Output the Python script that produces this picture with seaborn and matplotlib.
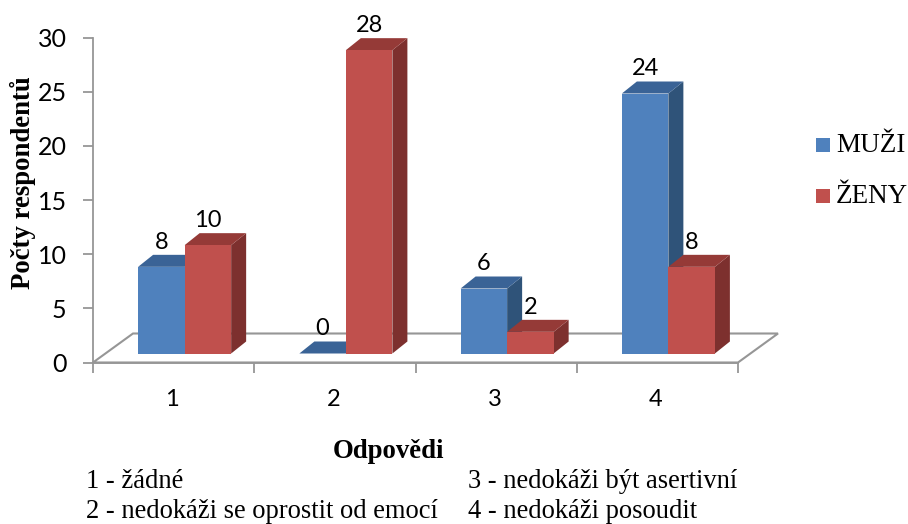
import matplotlib
matplotlib.use("Agg")
import matplotlib.pyplot as plt
from matplotlib.patches import Polygon, Rectangle
from matplotlib.transforms import IdentityTransform, ScaledTranslation
import seaborn as sns
import pandas as pd

# values
answers = ["1", "2", "3", "4"]
men = [8, 0, 6, 24]
women = [10, 28, 2, 8]
series_names = ["MUŽI", "ŽENY"]
y_ticks = [0, 5, 10, 15, 20, 25, 30]
notes_left = ["1 - žádné", "2 - nedokáži se oprostit od emocí"]
notes_right = ["3 - nedokáži být asertivní", "4 - nedokáži posoudit"]

df = pd.DataFrame({
    "answer": answers * 2,
    "count": men + women,
    "group": [series_names[0]] * 4 + [series_names[1]] * 4,
})

W, H = 908, 524
sns.set_theme(style="white")
plt.rcParams["font.family"] = ["Lato", "DejaVu Sans"]
fig = plt.figure(figsize=(W / 100, H / 100), dpi=100)
ax = fig.add_axes([93 / W, 1 - 362.5 / H, 645 / W, 325 / H])

front = {"MUŽI": "#4f81bd", "ŽENY": "#c0504d"}
side = {"MUŽI": "#2f5379", "ŽENY": "#7d302e"}
top = {"MUŽI": "#3a6396", "ŽENY": "#953a37"}
screen = IdentityTransform()

sns.barplot(data=df, x="answer", y="count", hue="group", palette=front, ax=ax,
            width=0.577, saturation=1, legend=False, linewidth=0, edgecolor="none")
ax.set_xlim(-0.5, 3.5)
ax.set_ylim(0, 30)
ax.set_yticks(y_ticks)
bars = list(ax.patches)

# bars stand on the floor, a bit behind the axis plane
px = 1 / 100
dx, dy = 15, 12
shift = ScaledTranslation(11 * px, 9 * px, fig.dpi_scale_trans)

# floor of the 3D chart
x0, y0 = ax.transData.transform((-0.5, 0))
x1, y1 = ax.transData.transform((3.5, 0))
ax.add_patch(Polygon([(x0, y0), (x1, y1), (x1 + 40, y1 + 29), (x0 + 40, y0 + 29)],
                     transform=screen, facecolor="white", edgecolor="#969696", lw=1.5,
                     zorder=1, clip_on=False))

names = [series_names[0]] * 4 + [series_names[1]] * 4
for bar, name, val in zip(bars, names, men + women):
    # corners in screen pixels, after the floor shift
    xa, ya = (ax.transData + shift).transform((bar.get_x(), 0))
    xb, yb = (ax.transData + shift).transform((bar.get_x() + bar.get_width(), val))
    z = 3 if name == series_names[0] else 4
    bar.set_transform(ax.transData + shift)
    bar.set_zorder(z)
    bar.set_clip_on(False)
    ax.add_patch(Polygon([(xb, ya), (xb + dx, ya + dy), (xb + dx, yb + dy), (xb, yb)],
                         transform=screen, facecolor=side[name], edgecolor="none",
                         zorder=z - 0.5, clip_on=False))
    ax.add_patch(Polygon([(xa, yb), (xb, yb), (xb + dx, yb + dy), (xa + dx, yb + dy)],
                         transform=screen, facecolor=top[name], edgecolor="none",
                         zorder=z - 0.5, clip_on=False))
    ax.annotate(str(val), xy=((xa + xb) / 2, yb + dy), xycoords="figure pixels",
                xytext=(0, 1.5), textcoords="offset points", ha="center", va="bottom",
                fontsize=17, color="black", annotation_clip=False, zorder=6)

# axis lines and ticks
for s in ["top", "right"]:
    ax.spines[s].set_visible(False)
for s in ["left", "bottom"]:
    ax.spines[s].set_color("#969696")
    ax.spines[s].set_linewidth(1.3)
    ax.spines[s].set_zorder(2)
ax.set_xticks([-0.5, 0.5, 1.5, 2.5, 3.5])
ax.set_xticklabels([])
ax.tick_params(axis="x", length=7, color="#969696", width=1.3, bottom=True)
ax.tick_params(axis="y", length=7, color="#969696", width=1.3, left=True, labelsize=18, pad=12)
for i, lab in enumerate(answers):
    ax.text(i - 0.01, -3.4, lab, ha="center", va="center", fontsize=17, color="black", clip_on=False)
ax.set_xlabel("")
ax.set_ylabel("")
for t in ax.get_yticklabels():
    t.set_color("black")

serif = "Liberation Serif"
fig.text(23 / W, 1 - 183 / H, "Počty respondentů", rotation=90, ha="center", va="center",
         family=serif, weight="bold", fontsize=19.3, color="black")
fig.text(388 / W, 1 - 451 / H, "Odpovědi", ha="center", va="center",
         family=serif, weight="bold", fontsize=19.3, color="black")
for i, row in enumerate(notes_left):
    fig.text(86 / W, 1 - (482 + i * 29) / H, row, ha="left", va="center",
             family=serif, fontsize=19.1, color="black")
for i, row in enumerate(notes_right):
    fig.text(468 / W, 1 - (482 + i * 29) / H, row, ha="left", va="center",
             family=serif, fontsize=19.1, color="black")

# legend
for i, name in enumerate(series_names):
    yy = 145 + i * 51
    fig.add_artist(Rectangle((816 / W, 1 - (yy + 7) / H), 14 / W, 14 / H,
                             transform=fig.transFigure, facecolor=front[name],
                             edgecolor="none"))
    fig.text(836 / W, 1 - yy / H, name, ha="left", va="center", family=serif,
             fontsize=19.5, color="black")

fig.savefig("out.png", dpi=100)
